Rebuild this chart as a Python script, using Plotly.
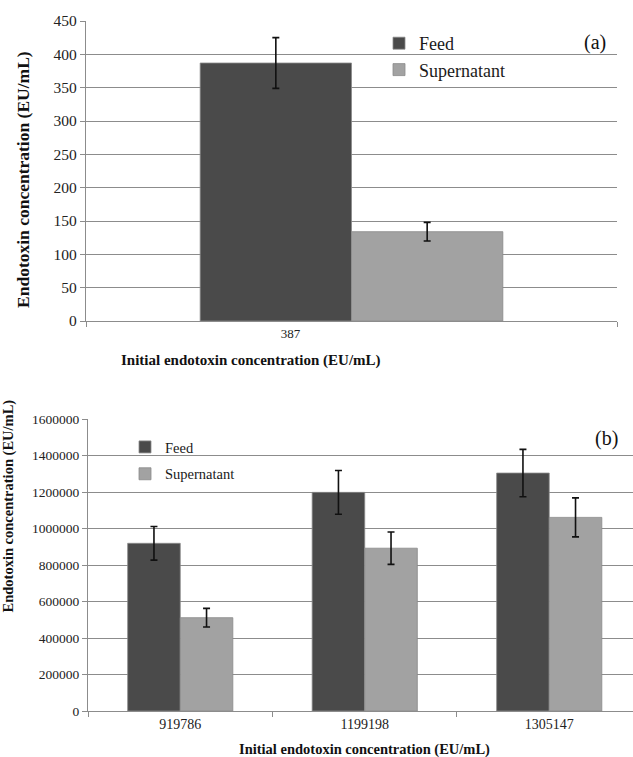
import plotly.graph_objects as go

# ---------------- data ----------------
series_names = ["Feed", "Supernatant"]
series_colors = ["#4a4a4a", "#a2a2a2"]

cat_a = ["387"]
feed_a = [387]
feed_a_err = [38]
sup_a = [134]
sup_a_err = [14]

cat_b = ["919786", "1199198", "1305147"]
feed_b = [919786, 1199198, 1305147]
feed_b_err = [92000, 120000, 130000]
sup_b = [512000, 893000, 1062000]
sup_b_err = [51000, 89000, 107000]

y_ticks_a = [0, 50, 100, 150, 200, 250, 300, 350, 400, 450]
y_ticks_b = [0, 200000, 400000, 600000, 800000, 1000000, 1200000, 1400000, 1600000]

y_title = "Endotoxin concentration (EU/mL)"
x_title = "Initial endotoxin concentration (EU/mL)"

W, H = 633, 757
FONT = "Liberation Serif"
GRID = "#8c8c8c"


def px(x):
    return x / W


def py(y):
    return 1 - y / H


fig = go.Figure()

err_style = dict(type="data", color="#111111", thickness=1.6, width=3.5, visible=True)

# panel (a)
for name, col, vals, errs in [
    (series_names[0], series_colors[0], feed_a, feed_a_err),
    (series_names[1], series_colors[1], sup_a, sup_a_err),
]:
    fig.add_trace(go.Bar(
        x=cat_a, y=vals, name=name, marker=dict(color=col, line=dict(color="#8a8a8a", width=0.8)),
        error_y=dict(array=errs, **err_style), xaxis="x", yaxis="y", legend="legend",
        legendgroup="a_" + name,
    ))

# panel (b)
for name, col, vals, errs in [
    (series_names[0], series_colors[0], feed_b, feed_b_err),
    (series_names[1], series_colors[1], sup_b, sup_b_err),
]:
    fig.add_trace(go.Bar(
        x=cat_b, y=vals, name=name, marker=dict(color=col, line=dict(color="#8a8a8a", width=0.8)),
        error_y=dict(array=errs, **err_style), xaxis="x2", yaxis="y2", legend="legend2",
        legendgroup="b_" + name,
    ))

common_x = dict(type="category", showgrid=False, showline=True, linecolor=GRID, linewidth=1.2,
                ticks="outside", tickson="boundaries", ticklen=5, tickcolor=GRID, zeroline=False,
                automargin=False)
common_y = dict(showgrid=True, gridcolor=GRID, gridwidth=1.2, showline=True, linecolor=GRID,
                linewidth=1.2, ticks="outside", ticklen=5, tickcolor=GRID, zeroline=False,
                automargin=False)

fig.update_layout(
    width=W, height=H, margin=dict(l=0, r=0, t=0, b=0, autoexpand=False),
    paper_bgcolor="white", plot_bgcolor="white",
    font=dict(family=FONT, color="#1a1a1a"),
    barmode="group", bargap=0.43, bargroupgap=0,
    xaxis=dict(domain=[px(86), px(617)], anchor="y", range=[-0.5, 0.5],
               tickfont=dict(size=13, family=FONT, color="#222"), ticklabelshift=-61, **common_x),
    yaxis=dict(domain=[py(321), py(21)], anchor="x", range=[0, 450], tickvals=y_ticks_a,
               tickfont=dict(size=15.5, family=FONT, color="#222"), **common_y),
    xaxis2=dict(domain=[px(88), 1.0], anchor="y2", range=[-0.5, 2.454],
                tickfont=dict(size=14, family=FONT, color="#222"), **common_x),
    yaxis2=dict(domain=[py(711), py(419.3)], anchor="x2", range=[0, 1600000], tickvals=y_ticks_b,
                tickformat="d", tickfont=dict(size=13.5, family=FONT, color="#222"), **common_y),
    legend=dict(x=px(379), y=py(25), xanchor="left", yanchor="top", bgcolor="rgba(0,0,0,0)",
                font=dict(size=18, family=FONT, color="#1a1a1a"), itemwidth=30, tracegroupgap=0),
    legend2=dict(x=px(125), y=py(431), xanchor="left", yanchor="top", bgcolor="rgba(0,0,0,0)",
                 font=dict(size=14.5, family=FONT, color="#1a1a1a"), itemwidth=30, tracegroupgap=5),
    showlegend=True,
)

annots = [
    dict(text="<b>" + y_title + "</b>", x=px(23), y=py(180), textangle=-90,
         font=dict(size=17.5, family=FONT, color="#111")),
    dict(text="<b>" + x_title + "</b>", x=px(251), y=py(360),
         font=dict(size=15, family=FONT, color="#111")),
    dict(text="<b>" + y_title + "</b>", x=px(8.5), y=py(506), textangle=-90,
         font=dict(size=14.5, family=FONT, color="#111")),
    dict(text="<b>" + x_title + "</b>", x=px(364), y=py(749),
         font=dict(size=14.5, family=FONT, color="#111")),
    dict(text="(a)", x=px(595), y=py(43), font=dict(size=20, family=FONT, color="#111")),
    dict(text="(b)", x=px(606), y=py(438), font=dict(size=20, family=FONT, color="#111")),
]
for a in annots:
    fig.add_annotation(xref="paper", yref="paper", showarrow=False, xanchor="center", yanchor="middle", **a)

fig.write_html("out.html", config={"displayModeBar": False},
               post_script="document.body.style.margin='0';document.body.style.overflow='hidden';"
                           "document.documentElement.style.overflow='hidden';")
